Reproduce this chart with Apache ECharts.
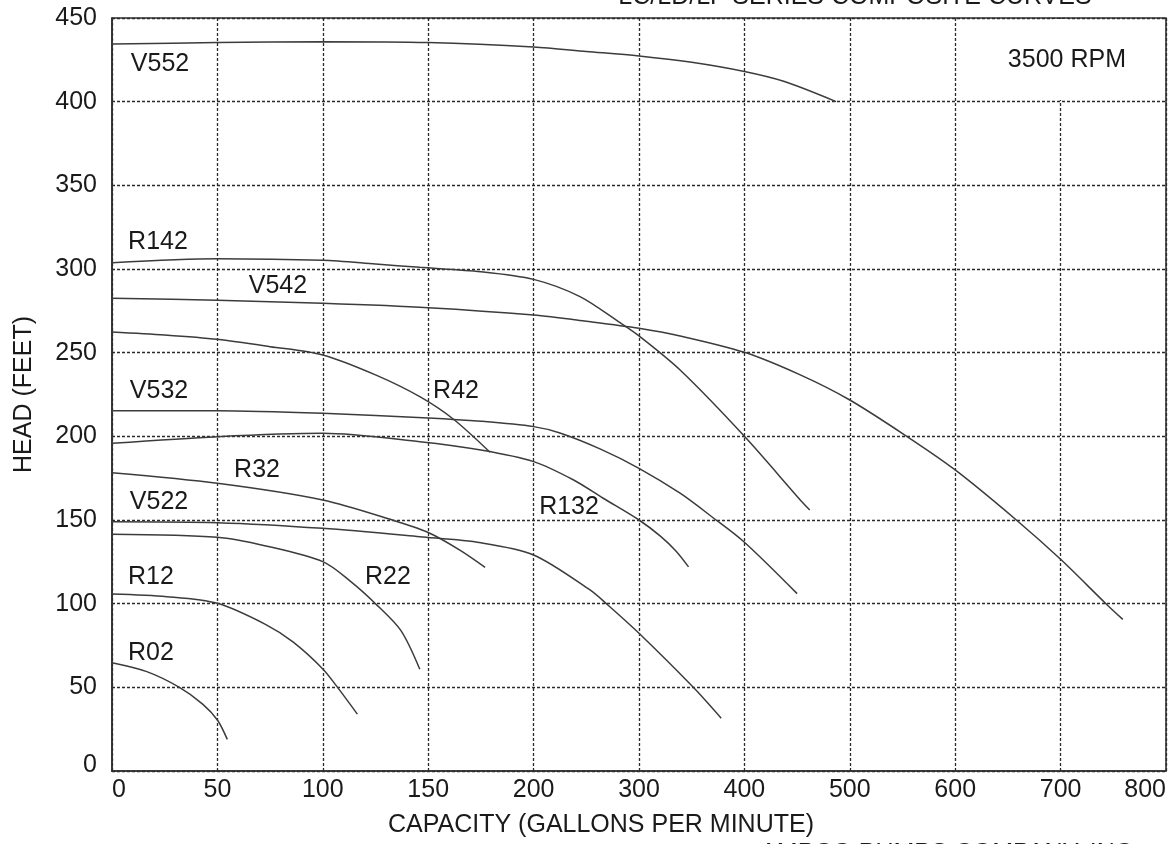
<!DOCTYPE html>
<html><head><meta charset="utf-8">
<script src="https://cdn.jsdelivr.net/npm/echarts@6/dist/echarts.min.js"></script>
<style>html,body{margin:0;padding:0;background:#fff}#c{width:1174px;height:844px}</style>
</head><body><div id="c"></div>
<script>
// X axis tick labels (GPM) – equally spaced on the chart (broken scale)
const xTickLabels = [0, 50, 100, 150, 200, 300, 400, 500, 600, 700, 800];
const yMin = 0, yMax = 450, yStep = 50;

// Curves: [capacity GPM, head FEET]
const R02  = [[0,64.7],[16.5,59.4],[32,50],[43,40],[50,30.5],[54.7,18.9]];
const R12  = [[0,105.8],[26,104.2],[50,100.2],[73,87.5],[86,77],[100,61],[107,50],[116.4,34]];
const R22  = [[0,141.5],[50,139.7],[73,134.5],[100,125.1],[113,113.5],[125,100],[137,84],[146,60.8]];
const V522 = [[0,149],[50,148.4],[100,145],[146,140],[175,136.4],[200,129.1],[253.5,108.2],[269,100],[300,82.3],[351.5,50],[378,31.5]];
const R32  = [[0,178.3],[50,172],[100,162],[133,150],[150,142.5],[165,132],[177,121.7]];
const R132 = [[0,195.8],[50,199.8],[100,201.8],[146,196.8],[175,191.8],[200,184.9],[238,173.9],[266,163],[300,150],[320,140.5],[335,131.5],[347,122]];
const V532 = [[0,215.3],[50,215.3],[100,213.8],[150,211],[175,209],[200,205.8],[225,202],[263,192.5],[300,180.9],[339,166],[370,151.5],[400,136.7],[450,106]];
const R42  = [[0,262.4],[25,260.6],[50,258],[75,253.6],[100,248.6],[125,236.7],[146,223.7],[162,210.2],[179.3,190.5]];
const V542 = [[0,282.5],[50,281.3],[100,279.5],[150,276.9],[200,272.5],[250,268.8],[300,264.6],[339,260],[400,250.2],[453,236.7],[500,221.7],[554,200],[600,179.9],[658,150],[700,126.5],[743,100],[759,90.6]];
const R142 = [[0,303.8],[50,306.2],[100,305.2],[125,303],[146,301],[175,298.4],[200,293.8],[244,283.5],[282,267.9],[300,260],[339,239.6],[400,200],[453,162],[462,156]];
const V552 = [[0,434.5],[50,435.3],[100,435.8],[150,435.3],[200,432.7],[250,430],[300,427.3],[350,423.5],[400,418],[438,412],[487,400]];

const curves = {R02, R12, R22, V522, R32, R132, V532, R42, V542, R142, V552};

// Text annotations: [text, GPM, FEET]
const annotations = [
  ['V552', 22.8, 422.5], ['R142', 21.8, 316.1], ['V542', 78.7, 289.8], ['R42', 163.2, 227.1],
  ['V532', 22.3, 226.8], ['R32', 68.8, 179.9], ['V522', 22.3, 160.8], ['R132', 233.6, 157.8],
  ['R22', 130.9, 115.9], ['R12', 18.5, 115.9], ['R02', 18.5, 70.5], ['3500 RPM', 706, 425]
];

const titleText = 'LC/LD/LF SERIES COMPOSITE CURVES';
const footerText = 'AMPCO PUMPS COMPANY, INC.';
const xName = 'CAPACITY (GALLONS PER MINUTE)';
const yName = 'HEAD (FEET)';

// piecewise-linear mapping of GPM to the equally spaced axis position
function gpmToPos(g) {
  const t = xTickLabels;
  for (let i = 0; i < t.length - 1; i++) {
    if (g <= t[i + 1]) return i + (g - t[i]) / (t[i + 1] - t[i]);
  }
  return t.length - 1;
}

const FONT = 'Liberation Sans, Arial, Helvetica, sans-serif';
const TXT = '#1a1a1a';
const gridLine = { show: true, lineStyle: { color: '#2a2a2a', width: 1.3, type: [3, 2] } };

const series = Object.keys(curves).map(name => ({
  name, type: 'line', smooth: 0.3, symbol: 'none',
  lineStyle: { color: '#3c3c3c', width: 1.5 },
  data: curves[name].map(p => [gpmToPos(p[0]), p[1]]),
  z: 3
}));

series.push({
  type: 'scatter', symbol: 'circle', symbolSize: 0.1, itemStyle: { color: '#ffffff', opacity: 1 },
  label: { show: true, position: 'inside', formatter: p => p.data.name,
    color: TXT, fontSize: 25, fontFamily: FONT, opacity: 1 },
  data: annotations.map(a => ({ name: a[0], value: [gpmToPos(a[1]), a[2]] })),
  markArea: { silent: true, itemStyle: { color: '#fff', opacity: 1 },
    data: [[{ coord: [gpmToPos(693), 401] }, { coord: [gpmToPos(707), 449.4] }]] },
  z: 4
});

const chart = echarts.init(document.getElementById('c'), null, { renderer: 'canvas' });
chart.setOption({
  animation: false,
  backgroundColor: '#fff',
  grid: { left: 112, right: 8, top: 18, bottom: 73, show: true, borderColor: '#303030', borderWidth: 1.6, backgroundColor: 'transparent' },
  xAxis: {
    type: 'value', min: 0, max: xTickLabels.length - 1, interval: 1,
    axisLine: { show: true, lineStyle: { color: '#303030', width: 1.6 } },
    axisTick: { show: false },
    axisLabel: { color: TXT, fontSize: 25, fontFamily: FONT, margin: 7,
      alignMinLabel: 'left', alignMaxLabel: 'right',
      formatter: v => String(xTickLabels[Math.round(v)]) },
    splitLine: gridLine
  },
  yAxis: {
    type: 'value', min: yMin, max: yMax, interval: yStep,
    axisLine: { show: true, lineStyle: { color: '#303030', width: 1.6 } },
    axisTick: { show: false },
    axisLabel: { color: TXT, fontSize: 25, fontFamily: FONT, margin: 15,
      formatter: v => v === 0 ? '{z|0}' : String(v),
      rich: { z: { fontSize: 25, fontFamily: FONT, color: TXT, padding: [0, 0, 12, 0] } } },
    splitLine: gridLine,
    name: yName, nameLocation: 'middle', nameGap: 75, nameRotate: 90,
    nameTextStyle: { color: TXT, fontSize: 25, fontFamily: FONT }
  },
  graphic: [
    { type: 'text', x: 601, y: 825, style: { text: xName, fill: TXT, font: '25px ' + FONT, align: 'center', verticalAlign: 'middle' } },
    { type: 'text', x: 855, y: -3, style: { text: titleText, fill: TXT, font: '25px ' + FONT, align: 'center', verticalAlign: 'middle' } },
    { type: 'text', x: 950, y: 854, style: { text: footerText, fill: TXT, font: '25px ' + FONT, align: 'center', verticalAlign: 'middle' } }
  ],
  series
});
</script>
</body></html>
